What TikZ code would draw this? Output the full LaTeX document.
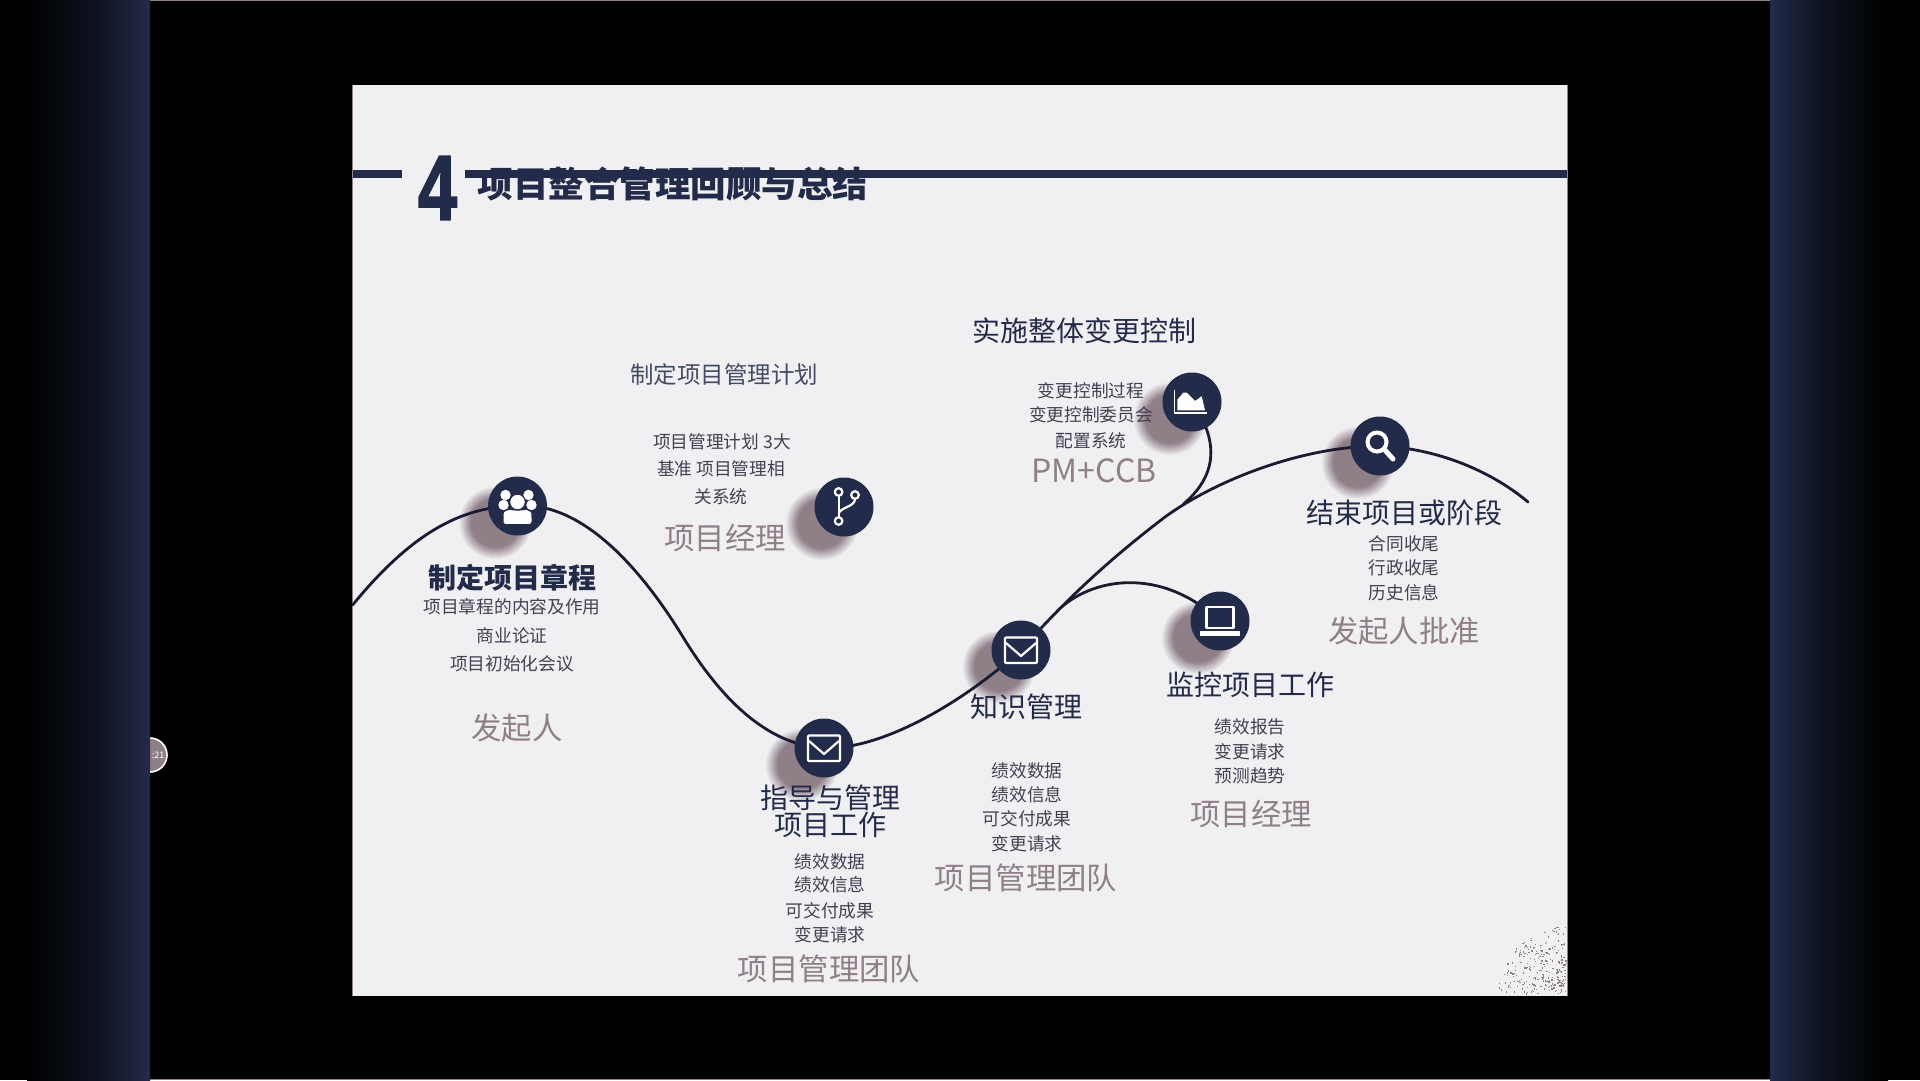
\documentclass[tikz,border=0pt]{standalone}
\usepackage{fontspec}
\setmainfont{Noto Sans CJK SC}
\newfontfamily\digitfont[BoldFeatures={FakeBold=2.2}]{Liberation Sans}
\usetikzlibrary{backgrounds}
\definecolor{navy}{HTML}{232B4A}
\definecolor{mauve}{HTML}{8F7F87}
\definecolor{slidebg}{HTML}{F0F0F3}
\definecolor{subtext}{HTML}{453F50}
\definecolor{curve}{HTML}{1A1A30}
\definecolor{navymid}{HTML}{0F1322}
\tikzset{
  badge/.style={circle,fill=navy,minimum size=59pt,inner sep=0pt},
  headtext/.style={inner sep=0pt,text=navy,font=\fontsize{28}{30}\selectfont},
  plantext/.style={inner sep=0pt,text=navy!85!white,font=\fontsize{23.5}{26}\selectfont},
  subitem/.style={inner sep=0pt,text=subtext,font=\fontsize{17.7}{20}\selectfont},
  roletext/.style={inner sep=0pt,text=mauve,font=\fontsize{30.4}{32}\selectfont},
  wave/.style={draw=curve,line width=2.8pt,line cap=round},
  glyph/.style={draw=white,line width=2.2pt,line join=round}
}
\begin{document}
\begin{tikzpicture}[x=1pt,y=-1pt]
\useasboundingbox (0,0) rectangle (1920,1080);
\begin{pgfonlayer}{background}
  \fill[black] (0,0) rectangle (1920,1080);
  \fill[mauve] (150,0) rectangle (1770,1.2);
  \fill[mauve] (150,1078.8) rectangle (1770,1080);
  % small time badge, cut off by the left bar
  \fill[mauve] (150,755) circle (17);
  \draw[white,line width=1.6pt] (150,755) circle (17);
  \shade[left color=black,right color=navymid] (27,0) rectangle (100,1080);
  \shade[left color=navymid,right color=navy] (100,0) rectangle (150,1080);
  \shade[left color=navy,right color=navymid] (1770,0) rectangle (1820,1080);
  \shade[left color=navymid,right color=black] (1820,0) rectangle (1888,1080);
  \fill[slidebg] (352.6,85) rectangle (1567.4,995.5);
  \draw[mauve,line width=1pt] (352.6,85) -- (352.6,995.5);
  \draw[mauve,line width=1pt] (1567.4,85) -- (1567.4,995.5);
  \pgfmathsetseed{4217}
  \foreach \i in {1,...,260}{
    \pgfmathsetmacro{\ang}{rnd*90}
    \pgfmathsetmacro{\dst}{3+65*rnd^0.8}
    \fill[mauve] ({1567-\dst*cos(\ang)-1},{995-\dst*sin(\ang)-1}) rectangle ++(1.3,1.3);
  }
  % soft shadows of the badges, from the rim inwards
  \foreach \cx/\cy in {517.5/506,844/507,824/748,1021/650,1192/402,1220/621,1380/446}{
    \foreach \rr/\pc in {36/10,35/18,34/26,33/34,32/42,31/50,30/58,29/66,28/74,27/82,26/90,25/96,24/100}{
      \fill[mauve!\pc!slidebg] ({\cx-22},{\cy+17}) circle (\rr);
    }
  }
\end{pgfonlayer}

% badges
\node[badge] (c1) at (517.5,506) {};
\node[badge] (c2) at (844,507) {};
\node[badge] (c3) at (824,748) {};
\node[badge] (c4) at (1021,650) {};
\node[badge] (c5) at (1192,402) {};
\node[badge] (c6) at (1220,621) {};
\node[badge] (c7) at (1380,446) {};

% free ends and way points of the wave
\coordinate (wstart) at (352.6,605);
\coordinate (wend) at (1528,502);
\coordinate (m1) at (683,637);
\coordinate (m2) at (1165,517);
\coordinate (j5) at (1183.5,504);
\coordinate (j6) at (1057,611.3);

\begin{pgfonlayer}{background}
  \draw[wave] (wstart) .. controls (410,535) and (460,506) .. (c1.center)
     .. controls (590,500) and (653,588) .. (m1)
     .. controls (713,686) and (760,745) .. (c3.center)
     .. controls (880,750) and (960,705) .. (c4.center)
     .. controls (1070,595) and (1115,555) .. (m2)
     .. controls (1213,482) and (1300,446) .. (c7.center)
     .. controls (1435,448) and (1490,470) .. (wend);
  \draw[wave] (c5.center) .. controls (1222,445) and (1214,478) .. (j5);
  \draw[wave] (j6) .. controls (1090,578) and (1160,565) .. (c6.center);
\end{pgfonlayer}

% title
\node[inner sep=0pt,text=navy,anchor=center,font=\fontsize{35.5}{38}\selectfont\bfseries] (title) at (673,184) {项目整合管理回顾与总结};
\node[inner sep=0pt,text=navy,xscale=0.76,font=\fontsize{92}{92}\selectfont\digitfont\bfseries] (num) at (437.5,188) {4};
\coordinate (ll) at (352.6,174);
\coordinate (lm) at (402,174);
\coordinate (rm) at (465,174);
\coordinate (rr) at (1567.4,174);
\draw[navy,line width=8.5pt] (ll) -- (lm);
\draw[navy,line width=8.5pt] (rm) -- (rr);

% icons
\begin{scope}[shift={(c1)}]
  \fill[white] (-12,-11) circle (5.2) (11,-11) circle (5.2) (-14,-1) circle (5.2) (14,-1) circle (5.2);
  \filldraw[fill=white,draw=navy,line width=1pt] (0,-4) circle (7.8);
  \filldraw[fill=white,draw=navy,line width=1pt,rounded corners=2.5pt] (-14.5,18.5) -- (-14.5,9) .. controls (-14,5) and (-9,3) .. (-5,4) -- (5,4) .. controls (9,3) and (14,5) .. (14.5,9) -- (14.5,18.5) -- cycle;
\end{scope}
\begin{scope}[shift={(c2)}]
  \draw[glyph] (-5.4,-11) -- (-5.4,10);
  \draw[glyph] (11,-8) .. controls (11,0) and (-4,0) .. (-5.4,7);
  \filldraw[glyph,fill=navy] (-5.4,-15) circle (3.8) (-5.4,14) circle (3.8) (11,-12) circle (3.8);
\end{scope}
\begin{scope}[shift={(c3)}]
  \draw[glyph,rounded corners=1pt] (-16,-12.5) rectangle (16,13);
  \draw[glyph] (-15,-7) -- (0,6) -- (15,-7);
\end{scope}
\begin{scope}[shift={(c4)}]
  \draw[glyph,rounded corners=1pt] (-16,-12.5) rectangle (16,13);
  \draw[glyph] (-15,-7) -- (0,6) -- (15,-7);
\end{scope}
\begin{scope}[shift={(c5)}]
  \draw[glyph,line width=1.8pt] (-17.5,-12) -- (-17.5,10.7) -- (14.7,10.7);
  \fill[white] (-14.7,-2.3) -- (-8.7,-9.3) -- (-5.3,-9.3) -- (3,-1) -- (9.7,-5.7) -- (13,8.3) -- (-14.7,8.3) -- cycle;
\end{scope}
\begin{scope}[shift={(c6)}]
  \draw[glyph] (-13.5,-14) rectangle (13.5,7);
  \fill[white] (-20,10) rectangle (20,15);
\end{scope}
\begin{scope}[shift={(c7)}]
  \draw[white,line width=4pt] (-3,-4) circle (9.5);
  \draw[white,line width=5pt,line cap=round] (4.5,3.5) -- (13,13);
\end{scope}

% labels
\node[inner sep=0pt,text=white,font=\fontsize{9}{10}\selectfont] (clock) at (158,755) {:21};

\node[plantext] (planT) at (724,375) {制定项目管理计划};
\node[subitem] (plan1) at (722,442) {项目管理计划 3大};
\node[subitem] (plan2) at (721,469) {基准 项目管理相};
\node[subitem] (plan3) at (721,497) {关系统};
\node[roletext] (planR) at (725,538) {项目经理};

\node[headtext,font=\fontsize{28}{30}\selectfont\bfseries] (charterT) at (512,578) {制定项目章程};
\node[subitem] (ch1) at (512,607) {项目章程的内容及作用};
\node[subitem] (ch2) at (512,635.5) {商业论证};
\node[subitem] (ch3) at (512,663.5) {项目初始化会议};
\node[roletext] (chR) at (517,728) {发起人};

\node[headtext] (dirT1) at (830,798) {指导与管理};
\node[headtext] (dirT2) at (830,825) {项目工作};
\node[subitem] (dir1) at (830,862) {绩效数据};
\node[subitem] (dir2) at (830,885) {绩效信息};
\node[subitem] (dir3) at (830,911) {可交付成果};
\node[subitem] (dir4) at (830,935) {变更请求};
\node[roletext] (dirR) at (829,968.5) {项目管理团队};

\node[headtext] (knT) at (1026,706.5) {知识管理};
\node[subitem] (kn1) at (1027,771) {绩效数据};
\node[subitem] (kn2) at (1027,795) {绩效信息};
\node[subitem] (kn3) at (1027,819) {可交付成果};
\node[subitem] (kn4) at (1027,844) {变更请求};
\node[roletext] (knR) at (1026,878) {项目管理团队};

\node[headtext] (moT) at (1250,684.5) {监控项目工作};
\node[subitem] (mo1) at (1250,727) {绩效报告};
\node[subitem] (mo2) at (1250,752) {变更请求};
\node[subitem] (mo3) at (1250,776) {预测趋势};
\node[roletext] (moR) at (1251,814) {项目经理};

\node[headtext] (chgT) at (1084,331) {实施整体变更控制};
\node[subitem] (chg1) at (1091,390.5) {变更控制过程};
\node[subitem] (chg2) at (1091,415) {变更控制委员会};
\node[subitem] (chg3) at (1091,441) {配置系统};
\node[roletext,font=\fontsize{32}{34}\selectfont] (chgR) at (1094,471) {PM+CCB};

\node[headtext] (clT) at (1404,513) {结束项目或阶段};
\node[subitem] (cl1) at (1404,543.5) {合同收尾};
\node[subitem] (cl2) at (1404,568) {行政收尾};
\node[subitem] (cl3) at (1404,592.5) {历史信息};
\node[roletext] (clR) at (1404,630.5) {发起人批准};
\end{tikzpicture}
\end{document}
